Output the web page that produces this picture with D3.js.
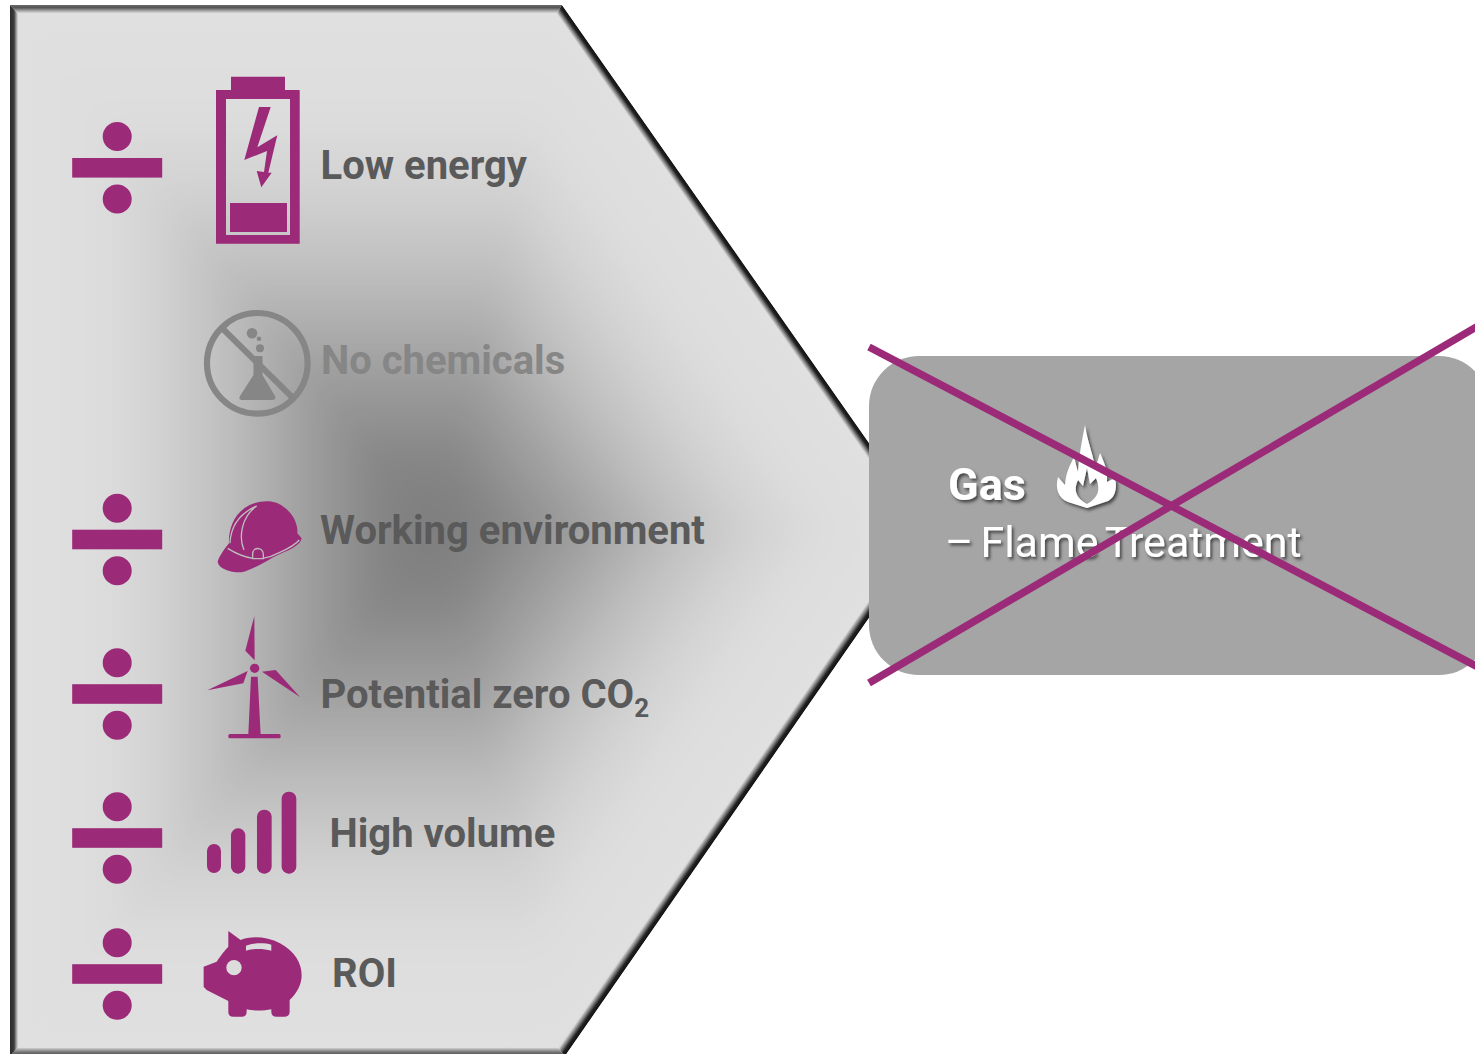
<!DOCTYPE html>
<html>
<head>
<meta charset="utf-8">
<style>
  html, body { margin: 0; padding: 0; background: #fff; }
  svg { display: block; }
  text { font-family: Roboto, sans-serif; }
</style>
<script src="https://cdn.jsdelivr.net/npm/d3@7"></script>
</head>
<body>
<svg id="chart"></svg>
<script>
// factors
const factorLabels = ["Low energy", "No chemicals", "Working environment", "Potential zero CO", "High volume", "ROI"];
const factorSubscripts = ["", "", "", "2", "", ""];
const factorActive = [true, false, true, true, true, true];
const alternativeTitle = "Gas";
const alternativeSubtitle = "– Flame Treatment";

// layout, kept apart from the values
const W = 1475, H = 1054;
const rowCentres = [167.8, 361, 539.5, 694, 838, 974];
const labelX = [320.5, 321, 320, 320.5, 329.5, 332];
const purple = "#9b2a78", grey = "#868686", dark = "#5a5a5a";

const rowY = d3.scaleOrdinal().domain(factorLabels).range(rowCentres);
const rowX = d3.scaleOrdinal().domain(factorLabels).range(labelX);

const svg = d3.select("#chart").attr("width", W).attr("height", H);
const defs = svg.append("defs");

const outer = [[10, 5], [562, 5], [930, 530], [565, 1056], [10, 1056]];
const inner = [[18, 14], [557, 14], [918, 530], [557, 1047], [18, 1047]];
const centre = [435, 530];

const pts = a => a.map(p => p.join(",")).join(" ");

defs.append("clipPath").attr("id", "arrowClip")
    .append("polygon").attr("points", pts(outer));

const blur = defs.append("filter").attr("id", "soft")
    .attr("x", "-20%").attr("y", "-20%").attr("width", "140%").attr("height", "140%");
blur.append("feGaussianBlur").attr("stdDeviation", 16);

const shadow = defs.append("filter").attr("id", "shadow")
    .attr("x", "-20%").attr("y", "-20%").attr("width", "140%").attr("height", "140%");
shadow.append("feDropShadow").attr("dx", 2).attr("dy", 2.5).attr("stdDeviation", 1.6)
    .attr("flood-color", "#333").attr("flood-opacity", 0.8);

// path gradient of the arrow: nested copies of the outline
const shade = d3.scaleLinear()
    .domain([0, 0.15, 0.32, 0.5, 0.66, 0.82, 1])
    .range(["#7c7c7c", "#868686", "#a0a0a0", "#bebebe", "#d2d2d2", "#dedede", "#e0e0e0"]);

const arrow = svg.append("g").attr("clip-path", "url(#arrowClip)");
arrow.append("polygon").attr("points", pts(outer)).attr("fill", "#e0e0e0");
arrow.append("g").attr("filter", "url(#soft)")
    .selectAll("polygon")
    .data(d3.range(1, 0, -0.02))
    .join("polygon")
    .attr("points", k => pts(outer.map(p => [centre[0] + (p[0] - centre[0]) * k, centre[1] + (p[1] - centre[1]) * k])))
    .attr("fill", k => shade(k));

// bevel round the arrow
const bevelStops = [
    [["0%", "#6a6a6a"], ["30%", "#555"], ["65%", "#a8a8a8"], ["100%", "#ececec"]],
    [["0%", "#111"], ["35%", "#222"], ["70%", "#8a8a8a"], ["100%", "#dedede"]],
    [["0%", "#111"], ["35%", "#222"], ["70%", "#8a8a8a"], ["100%", "#dedede"]],
    [["0%", "#444"], ["45%", "#777"], ["80%", "#bbb"], ["100%", "#ececec"]],
    [["0%", "#2c2c2c"], ["50%", "#3c3c3c"], ["78%", "#999"], ["100%", "#dcdcdc"]]
];
outer.forEach((p, i) => {
    const j = (i + 1) % outer.length;
    const a = outer[i], b = outer[j], c = inner[j], d = inner[i];
    // gradient runs across the side, from the outer edge inward
    const ex = b[0] - a[0], ey = b[1] - a[1], len2 = ex * ex + ey * ey;
    const t = ((d[0] - a[0]) * ex + (d[1] - a[1]) * ey) / len2;
    const foot = [a[0] + ex * t, a[1] + ey * t];
    const g = defs.append("linearGradient").attr("id", "bevel" + i)
        .attr("gradientUnits", "userSpaceOnUse")
        .attr("x1", foot[0]).attr("y1", foot[1]).attr("x2", d[0]).attr("y2", d[1]);
    bevelStops[i].forEach(s => g.append("stop").attr("offset", s[0]).attr("stop-color", s[1]));
    arrow.append("polygon").attr("points", pts([a, b, c, d])).attr("fill", `url(#bevel${i})`);
});

// divide signs
const signs = svg.append("g").selectAll("g")
    .data(factorLabels.filter((d, i) => factorActive[i]))
    .join("g")
    .attr("transform", d => `translate(117.2,${rowY(d)})`)
    .attr("fill", purple);
signs.append("rect").attr("x", -45).attr("y", -9.8).attr("width", 90).attr("height", 19.6);
signs.append("circle").attr("cy", -31.3).attr("r", 14.5);
signs.append("circle").attr("cy", 31.3).attr("r", 14.5);

// labels
const labels = svg.append("g").selectAll("text")
    .data(factorLabels)
    .join("text")
    .attr("x", d => rowX(d))
    .attr("y", (d, i) => rowY(d) + [11.5, 13, 4.5, 14, 9, 13][i])
    .attr("font-size", 40)
    .attr("font-weight", 700)
    .attr("fill", (d, i) => factorActive[i] ? dark : grey)
    .text(d => d);
labels.filter((d, i) => factorSubscripts[i] !== "").append("tspan")
    .attr("dy", 9).attr("font-size", 26)
    .text((d) => factorSubscripts[factorLabels.indexOf(d)]);

// icons, traced in a 3x crop space
const icons = svg.append("g");

// battery
const battery = icons.append("g").attr("fill", purple);
battery.append("path").attr("fill-rule", "evenodd")
    .attr("d", "M231,76.7H285V90H299.7V243.7H216V90H231ZM226,99V235H290V99Z");
battery.append("rect").attr("x", 230).attr("y", 203).attr("width", 57).attr("height", 29);
battery.append("polygon").attr("points", "259,107 270.7,107 257.3,147.3 277.3,135.3 268.3,172.7 271.7,172.7 261.3,187.3 256.7,171 264,172 267,151 244.3,160");

// no chemicals
const flask = icons.append("g").attr("fill", grey);
flask.append("circle").attr("cx", 257.3).attr("cy", 363.3).attr("r", 50.3)
    .attr("fill", "none").attr("stroke", grey).attr("stroke-width", 6.2);
flask.append("path").attr("d", "M253.5,356H262.5V375L275,396Q276.5,400 272,400H243Q238,400 240,396L253.5,375Z");
flask.append("line").attr("x1", 223).attr("y1", 329).attr("x2", 292).attr("y2", 397)
    .attr("stroke", grey).attr("stroke-width", 6);
flask.append("circle").attr("cx", 252).attr("cy", 333.3).attr("r", 5.3);
flask.append("circle").attr("cx", 259).attr("cy", 338.7).attr("r", 2.3);
flask.append("circle").attr("cx", 260).attr("cy", 348.3).attr("r", 4);

// helmet
const helmet = icons.append("g").attr("transform", "translate(60,480) scale(0.3333)");
helmet.append("path").attr("fill", purple)
    .attr("d", "M473,245C480,225 495,205 507,190C505,150 520,105 560,80C590,62 640,55 670,80C700,100 715,135 712,160L725,175C722,195 690,210 660,222C620,240 590,265 545,277C510,278 475,265 473,245Z");
helmet.append("path").attr("fill", "none").attr("stroke", "#bdbdbd").attr("stroke-width", 4)
    .attr("d", "M503,205C530,222 560,232 578,235M608,235C630,232 645,225 658,218C680,208 705,196 718,180M510,190C512,140 540,100 590,78M552,210C535,170 545,110 590,78M578,236V222C578,200 608,200 610,222V236Z");

// wind turbine
const turbine = icons.append("g").attr("transform", "translate(60,480) scale(0.3333)").attr("fill", purple);
turbine.append("polygon").attr("points", "573,590 593,590 602,765 565,765");
turbine.append("rect").attr("x", 505).attr("y", 762).attr("width", 157).attr("height", 13).attr("rx", 5);
turbine.append("circle").attr("cx", 584).attr("cy", 565).attr("r", 14);
turbine.append("polygon").attr("points", "583,408 584,541 556,512");
turbine.append("polygon").attr("points", "442,631 563,573 550,610");
turbine.append("polygon").attr("points", "720,651 606,575 647,570");

// signal bars
const barSteps = [[441, 192, 42, 87], [513, 145, 43, 136], [591, 89, 44, 192], [665, 35, 44, 246]];
icons.append("g").attr("transform", "translate(60,780) scale(0.3333)").attr("fill", purple)
    .selectAll("rect").data(barSteps).join("rect")
    .attr("x", d => d[0]).attr("y", d => d[1]).attr("width", d => d[2]).attr("height", d => d[3]).attr("rx", 21);

// piggy bank
const pig = icons.append("g").attr("transform", "translate(60,780) scale(0.3333)");
pig.append("path").attr("fill", purple)
    .attr("d", "M431,560L470,545C480,530 495,510 505,500V453L542,480C570,468 620,468 660,490C705,515 725,550 725,585C725,615 710,640 689,660V695Q689,710 672,710H650Q634,710 634,695V688C610,693 580,693 560,688V695Q560,710 545,710H520Q505,710 505,695V663L440,630L431,620Z");
pig.append("circle").attr("cx", 522).attr("cy", 563).attr("r", 23).attr("fill", "#dcdcdc");
pig.append("path").attr("fill", "#dcdcdc")
    .attr("d", "M558,497C580,488 615,488 634,494V512C610,505 580,505 558,512Z");

// discarded alternative
svg.append("rect").attr("x", 869).attr("y", 356).attr("width", 620).attr("height", 319)
    .attr("rx", 50).attr("fill", "#a5a5a5");

const gas = svg.append("g").attr("fill", "#fff").attr("filter", "url(#shadow)");
gas.append("text").attr("x", 948).attr("y", 500).attr("font-size", 45).attr("font-weight", 700)
    .text(alternativeTitle);
gas.append("text").attr("x", 945).attr("y", 557).attr("font-size", 43).attr("word-spacing", -3.5)
    .text(alternativeSubtitle);
gas.append("path").attr("fill-rule", "evenodd")
    .attr("d", "M1085,425C1088,445 1094,455 1095,470L1100,453C1104,462 1108,470 1107,482L1115,478C1118,490 1114,500 1105,502L1087,508L1068,502C1058,498 1055,488 1058,477L1065,485C1066,472 1070,465 1074,457L1078,472C1079,455 1082,440 1085,425ZM1087,468L1090,484L1096,478C1101,490 1098,498 1087,504C1076,498 1073,490 1078,480L1083,486Z");

// cross
const crossLines = [[869, 347, 1478, 667], [869, 683, 1478, 326]];
svg.append("g").selectAll("line").data(crossLines).join("line")
    .attr("x1", d => d[0]).attr("y1", d => d[1]).attr("x2", d => d[2]).attr("y2", d => d[3])
    .attr("stroke", purple).attr("stroke-width", 7.5);
</script>
</body>
</html>
